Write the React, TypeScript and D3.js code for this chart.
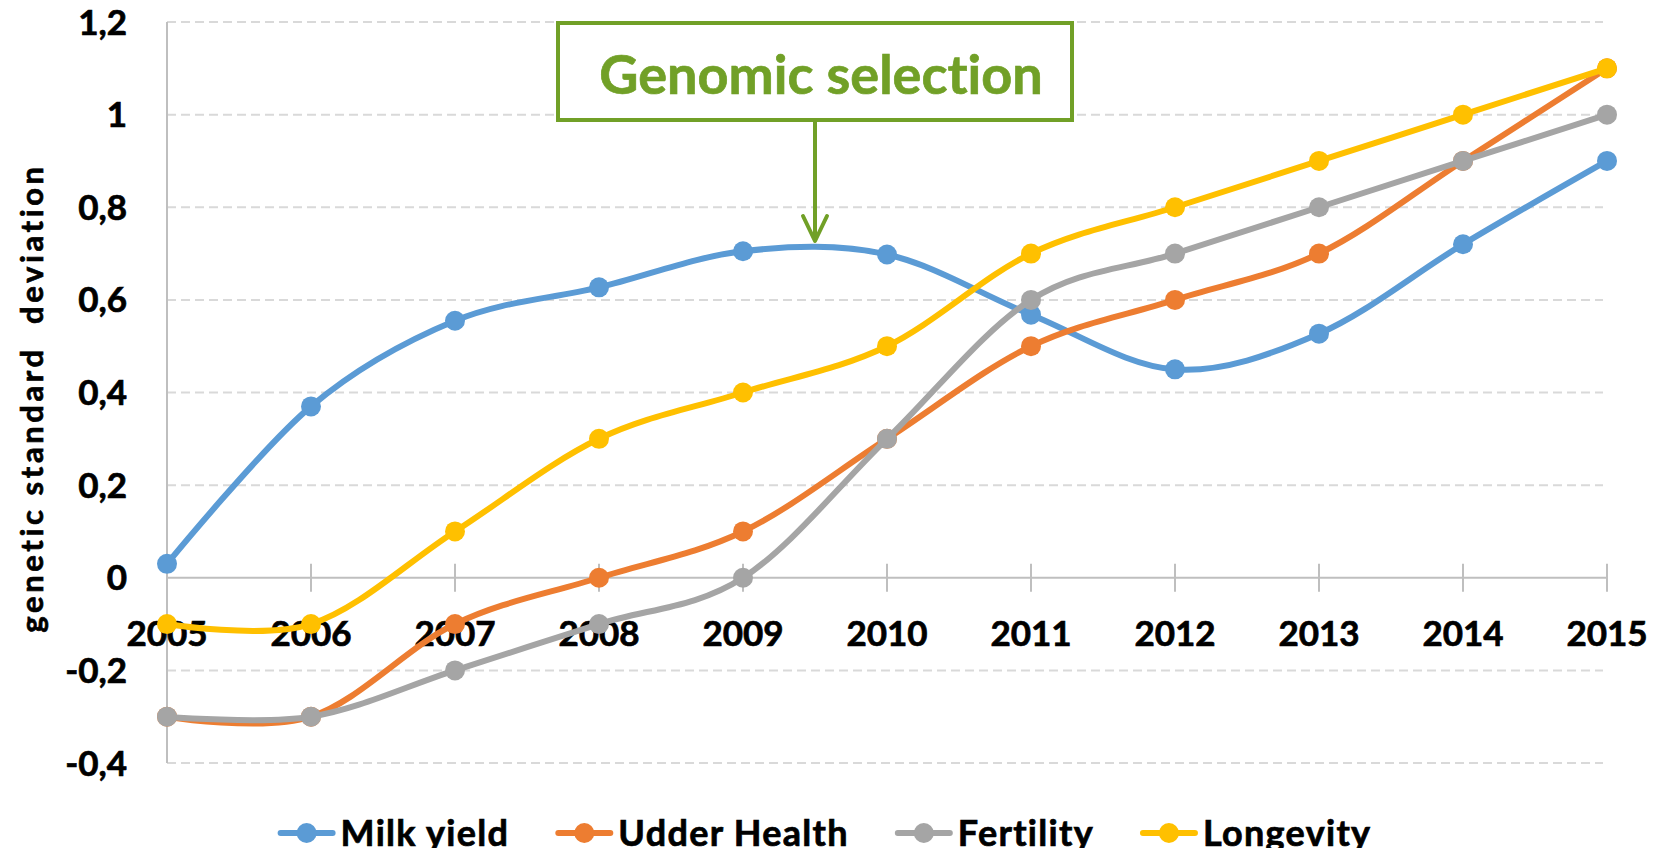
import { useRef, useEffect } from "react";
import * as d3 from "d3";

const years = ["2005", "2006", "2007", "2008", "2009", "2010", "2011", "2012", "2013", "2014", "2015"];
const milkYield = [0.03, 0.37, 0.555, 0.627, 0.705, 0.698, 0.568, 0.45, 0.527, 0.72, 0.9];
const udderHealth = [-0.3, -0.3, -0.1, 0, 0.1, 0.3, 0.5, 0.6, 0.7, 0.9, 1.1];
const fertility = [-0.3, -0.3, -0.2, -0.1, 0, 0.3, 0.6, 0.7, 0.8, 0.9, 1.0];
const longevity = [-0.1, -0.1, 0.1, 0.3, 0.4, 0.5, 0.7, 0.8, 0.9, 1.0, 1.1];
const yTicks = [-0.4, -0.2, 0, 0.2, 0.4, 0.6, 0.8, 1, 1.2];

const seriesNames = ["Milk yield", "Udder Health", "Fertility", "Longevity"];
const seriesColors = ["#5B9BD5", "#ED7D31", "#A5A5A5", "#FFC000"];
const seriesValues = [milkYield, udderHealth, fertility, longevity];

const annotationText = "Genomic selection";
const annotationYear = 2009.5;

const W = 1665;
const H = 856;
const FONT = "Lato, 'Open Sans', sans-serif";
const GREEN = "#71A027";

export default function App() {
  const svgRef = useRef<SVGSVGElement>(null);

  useEffect(() => {
    if (!svgRef.current) return;
    const svg = d3.select(svgRef.current);
    svg.selectAll("*").remove();

    const left = 167;
    const right = 1607;
    const top = 22;
    const bottom = 763;

    const x = d3.scalePoint<string>().domain(years).range([left, right]);
    const y = d3.scaleLinear().domain([-0.4, 1.2]).range([bottom, top]);
    const fmt = (v: number) => d3.format("~g")(+v.toFixed(1)).replace(".", ",").replace("−", "-");

    // bold text helper (slight stroke to match the heavier original face)
    const boldText = (sel: d3.Selection<any, any, any, any>, size: number, color = "#000") =>
      sel
        .attr("font-family", FONT)
        .attr("font-weight", 700)
        .attr("font-size", size)
        .attr("fill", color)
        .attr("stroke", color)
        .attr("stroke-width", 0.7)
        .style("font-variant-ligatures", "none");

    // gridlines
    svg
      .append("g")
      .selectAll("line")
      .data(yTicks.filter((t) => t !== 0))
      .join("line")
      .attr("x1", left)
      .attr("x2", right - 4)
      .attr("y1", (d) => y(d))
      .attr("y2", (d) => y(d))
      .attr("stroke", "#D9D9D9")
      .attr("stroke-width", 2)
      .attr("stroke-dasharray", "9,5");

    // y axis line
    svg
      .append("line")
      .attr("x1", left)
      .attr("x2", left)
      .attr("y1", top)
      .attr("y2", bottom)
      .attr("stroke", "#BFBFBF")
      .attr("stroke-width", 2);

    // x axis line at zero with crossing ticks
    svg
      .append("line")
      .attr("x1", left)
      .attr("x2", right)
      .attr("y1", y(0))
      .attr("y2", y(0))
      .attr("stroke", "#BFBFBF")
      .attr("stroke-width", 2);
    svg
      .append("g")
      .selectAll("line")
      .data(years)
      .join("line")
      .attr("x1", (d) => x(d)!)
      .attr("x2", (d) => x(d)!)
      .attr("y1", y(0) - 14)
      .attr("y2", y(0) + 14)
      .attr("stroke", "#BFBFBF")
      .attr("stroke-width", 2);

    // y tick labels
    boldText(
      svg
        .append("g")
        .selectAll("text")
        .data(yTicks)
        .join("text")
        .attr("x", 127)
        .attr("y", (d) => y(d))
        .attr("dy", "0.36em")
        .attr("text-anchor", "end")
        .text((d) => fmt(d)),
      35,
    );

    // x tick labels
    boldText(
      svg
        .append("g")
        .selectAll("text")
        .data(years)
        .join("text")
        .attr("x", (d) => x(d)!)
        .attr("y", 646)
        .attr("text-anchor", "middle")
        .text((d) => d),
      35,
    );

    // y axis title
    boldText(
      svg
        .append("text")
        .attr("transform", "translate(43,398) rotate(-90)")
        .attr("text-anchor", "middle")
        .attr("letter-spacing", 3.6)
        .style("white-space", "pre")
        .text("genetic standard  deviation"),
      31,
    );

    // series
    const line = d3
      .line<number>()
      .x((_, i) => x(years[i])!)
      .y((d) => y(d))
      .curve(d3.curveCardinal.tension(0));

    seriesValues.forEach((vals, si) => {
      const g = svg.append("g");
      g.append("path")
        .attr("d", line(vals)!)
        .attr("fill", "none")
        .attr("stroke", seriesColors[si])
        .attr("stroke-width", 6)
        .attr("stroke-linecap", "round");
      g.selectAll("circle")
        .data(vals)
        .join("circle")
        .attr("cx", (_, i) => x(years[i])!)
        .attr("cy", (d) => y(d))
        .attr("r", 10)
        .attr("fill", seriesColors[si]);
    });

    // annotation
    const step = x.step();
    const ax = x("2009")! + (annotationYear - 2009) * step;
    const ann = svg.append("g");
    ann
      .append("rect")
      .attr("x", ax - 257)
      .attr("y", 23)
      .attr("width", 514)
      .attr("height", 97)
      .attr("fill", "#fff")
      .attr("stroke", GREEN)
      .attr("stroke-width", 4);
    boldText(
      ann
        .append("text")
        .attr("x", ax + 6)
        .attr("y", 94)
        .attr("text-anchor", "middle")
        .text(annotationText),
      54,
      GREEN,
    );
    ann
      .append("line")
      .attr("x1", ax)
      .attr("x2", ax)
      .attr("y1", 120)
      .attr("y2", 241)
      .attr("stroke", GREEN)
      .attr("stroke-width", 4);
    ann
      .append("path")
      .attr("d", `M${ax - 12},${216} L${ax},${241} L${ax + 12},${216}`)
      .attr("fill", "none")
      .attr("stroke", GREEN)
      .attr("stroke-width", 4)
      .attr("stroke-linecap", "round")
      .attr("stroke-linejoin", "round");

    // legend
    const legend = svg.append("g");
    const legendY = 833;
    const items: { g: d3.Selection<SVGGElement, unknown, null, undefined>; w: number }[] = [];
    seriesNames.forEach((name, i) => {
      const g = legend.append("g");
      g.append("line")
        .attr("x1", 2)
        .attr("x2", 54)
        .attr("y1", legendY)
        .attr("y2", legendY)
        .attr("stroke", seriesColors[i])
        .attr("stroke-width", 6)
        .attr("stroke-linecap", "round");
      g.append("circle").attr("cx", 28).attr("cy", legendY).attr("r", 10).attr("fill", seriesColors[i]);
      const t = boldText(
        g
          .append("text")
          .attr("x", 62)
          .attr("y", legendY)
          .attr("dy", "0.36em")
          .attr("letter-spacing", 1.3)
          .text(name),
        36,
      );
      const w = 62 + (t.node() as SVGTextElement).getComputedTextLength();
      items.push({ g, w });
    });
    const gap = 47;
    const total = d3.sum(items, (d) => d.w) + gap * (items.length - 1);
    let cx = 825 - total / 2;
    items.forEach((it) => {
      it.g.attr("transform", `translate(${cx},0)`);
      cx += it.w + gap;
    });
  }, []);

  return (
    <div style={{ margin: -8 }}>
      <svg ref={svgRef} width={W} height={H} style={{ display: "block", background: "#fff" }} />
    </div>
  );
}
